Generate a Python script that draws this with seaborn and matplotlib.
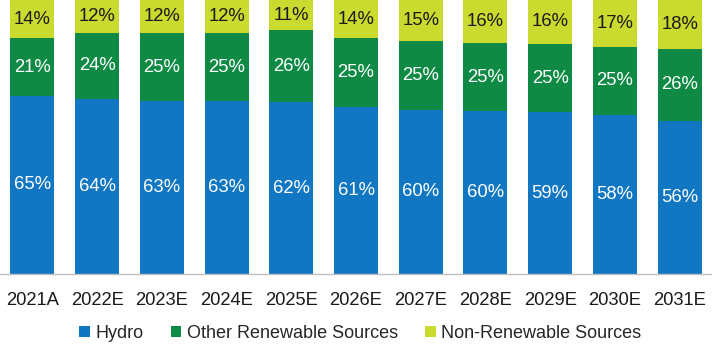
import matplotlib
matplotlib.use("Agg")
import matplotlib.pyplot as plt
from matplotlib.patches import Patch
import seaborn as sns
import pandas as pd
import numpy as np

categories = ["2021A", "2022E", "2023E", "2024E", "2025E", "2026E", "2027E", "2028E", "2029E", "2030E", "2031E"]
hydro = [65, 64, 63, 63, 62, 61, 60, 60, 59, 58, 56]
other = [21, 24, 25, 25, 26, 25, 25, 25, 25, 25, 26]
nonren = [14, 12, 12, 12, 11, 14, 15, 16, 16, 17, 18]
series_names = ["Hydro", "Other Renewable Sources", "Non-Renewable Sources"]
colors = ["#1177C3", "#0E8A45", "#CBDA2E"]
label_colors = ["white", "white", "#1a1a1a"]

sns.set_theme(style="white")
plt.rcParams['font.family'] = ['Liberation Sans', 'DejaVu Sans']

h = np.array(hydro, float)
o = np.array(other, float)
n = np.array(nonren, float)
tot = h + o + n
hn, on, nn = h / tot * 100, o / tot * 100, n / tot * 100

df = pd.DataFrame({"cat": categories, "top": hn + on + nn, "mid": hn + on, "low": hn})

fig, ax = plt.subplots(figsize=(7.12, 3.46), dpi=100)
fig.subplots_adjust(left=0, right=1, top=1, bottom=0.208)

for col, c in zip(["top", "mid", "low"], colors[::-1]):
    sns.barplot(data=df, x="cat", y=col, color=c, width=0.68, saturation=1, ax=ax, edgecolor="none")

bottoms = [np.zeros_like(hn), hn, hn + on]
segs = [hn, on, nn]
raw = [hydro, other, nonren]
for s in range(3):
    for i in range(len(categories)):
        ax.text(i, bottoms[s][i] + segs[s][i] / 2, f"{raw[s][i]}%", ha="center", va="center",
                color=label_colors[s], fontsize=13.3)

ax.set_ylim(0, 100)
ax.set_xlim(-0.5, len(categories) - 0.5)
ax.set_xlabel("")
ax.set_ylabel("")
ax.set_yticks([])
ax.tick_params(axis="x", length=0, labelsize=13.2, pad=13, colors="#1a1a1a")
for sp in ["top", "left", "right"]:
    ax.spines[sp].set_visible(False)
ax.spines["bottom"].set_color("#BFBFBF")
ax.spines["bottom"].set_linewidth(1)

handles = [Patch(facecolor=c, edgecolor="none") for c in colors]
fig.legend(handles, series_names, loc="center", bbox_to_anchor=(0.506, 0.037), ncol=3, frameon=False,
           fontsize=13, handlelength=0.6, handleheight=0.6, handletextpad=0.3, columnspacing=1.5)

fig.savefig("out.png", dpi=100)
